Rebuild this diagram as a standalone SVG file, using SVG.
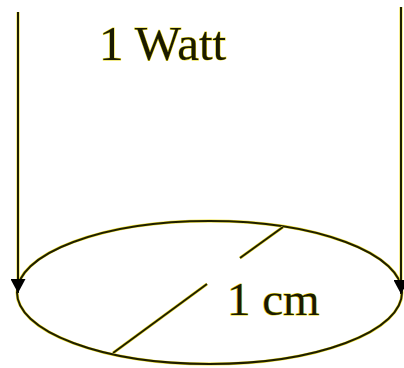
<svg xmlns="http://www.w3.org/2000/svg" width="404" height="368" viewBox="0 0 404 368">
<style>
.ln{fill:none;stroke:#1e1e00;stroke-width:2}
.halo{fill:none;stroke:#f0e030;stroke-width:3}
.tx{font-family:"Liberation Serif","Times New Roman",serif;font-size:47px;fill:#1a1a00;stroke:#e8d820;stroke-width:1;paint-order:stroke}
</style>
<defs>
<marker id="ah" markerWidth="14" markerHeight="15" viewBox="0 0 14 15" refX="14" refY="7.5" orient="auto" markerUnits="userSpaceOnUse">
<path d="M0,0 L14,7.5 L0,15 z" fill="#000"/>
</marker>
</defs>
<g id="disc">
<ellipse class="halo" cx="209.5" cy="292.5" rx="192.5" ry="71.5"/>
<ellipse class="ln" cx="209.5" cy="292.5" rx="192.5" ry="71.5"/>
</g>
<g id="connectors">
<line class="halo" x1="18" y1="12" x2="18" y2="280"/>
<line class="halo" x1="401" y1="7" x2="401" y2="280"/>
<line class="ln" x1="18" y1="12" x2="18" y2="293" marker-end="url(#ah)"/>
<line class="ln" x1="401" y1="7" x2="401" y2="294" marker-end="url(#ah)"/>
<line class="halo" x1="283" y1="227" x2="240" y2="258"/>
<line class="halo" x1="207" y1="284" x2="113" y2="353"/>
<line class="ln" x1="283" y1="227" x2="240" y2="258"/>
<line class="ln" x1="207" y1="284" x2="113" y2="353"/>
</g>
<g id="label-watt"><text class="tx" x="99" y="60" style="font-size:49px">1 Watt</text></g>
<g id="label-cm"><text class="tx" x="227" y="315">1 cm</text></g>
</svg>
